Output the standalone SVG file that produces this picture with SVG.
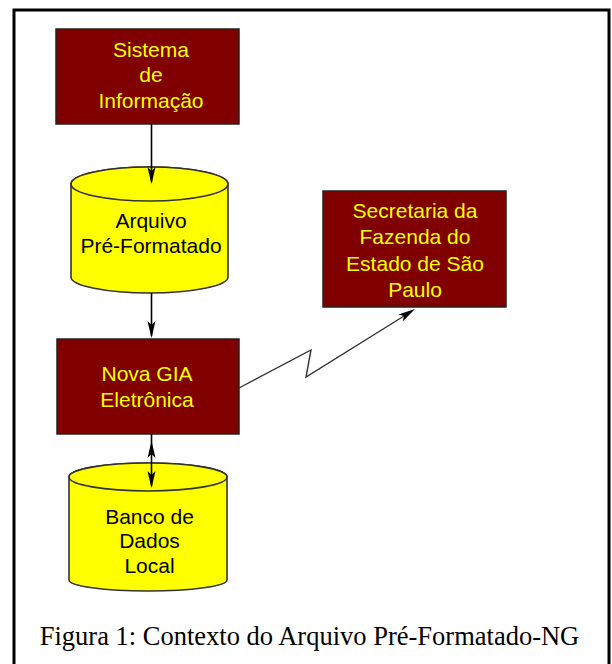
<svg xmlns="http://www.w3.org/2000/svg" xmlns:xlink="http://www.w3.org/1999/xlink" width="612" height="664" viewBox="0 0 612 664">
<style>
.box{fill:#800000;stroke:#222;stroke-width:1.5}
.cyl{fill:#ffff00;stroke:#333;stroke-width:1.6}
.yt{font-family:"Liberation Sans",Arial,sans-serif;font-size:21px;fill:#ffff00;text-anchor:middle}
.bt{font-family:"Liberation Sans",Arial,sans-serif;font-size:21px;fill:#000;text-anchor:middle}
.cap{font-family:"Liberation Serif","Times New Roman",serif;font-size:26.5px;fill:#000;text-anchor:middle}
.ln{stroke:#000;stroke-width:1.6;fill:none}
.zz{stroke:#333;stroke-width:1.4;fill:none}
</style>
<defs>
<path id="ah" d="M0,0 L-4,-17 L0,-13 L4,-17 Z" fill="#000"/>
</defs>
<rect x="14" y="10" width="595" height="670" fill="#fff" stroke="#000" stroke-width="3"/>
<g id="sistema">
<rect class="box" x="56" y="29" width="183" height="95"/>
<text class="yt" x="151" y="57">Sistema</text>
<text class="yt" x="151" y="82">de</text>
<text class="yt" x="151" y="108">Informação</text>
</g>
<g id="arquivo">
<path class="cyl" d="M71,184 L71,277 A78.5,16 0 0 0 228,277 L228,184 A78.5,17 0 0 0 71,184 Z"/>
<ellipse class="cyl" cx="149.5" cy="184" rx="78.5" ry="17"/>
<text class="bt" x="151" y="228">Arquivo</text>
<text class="bt" x="151" y="253">Pré-Formatado</text>
</g>
<g id="novagia">
<rect class="box" x="57" y="339" width="182" height="95"/>
<text class="yt" x="147" y="381">Nova GIA</text>
<text class="yt" x="147" y="407">Eletrônica</text>
</g>
<g id="banco">
<path class="cyl" d="M69,477 L69,580 A79,11 0 0 0 227,580 L227,477 A79,14 0 0 0 69,477 Z"/>
<ellipse class="cyl" cx="148" cy="477" rx="79" ry="14"/>
<text class="bt" x="149.5" y="524">Banco de</text>
<text class="bt" x="149.5" y="548">Dados</text>
<text class="bt" x="149.5" y="573">Local</text>
</g>
<g id="secretaria">
<rect class="box" x="323" y="191" width="183" height="116"/>
<text class="yt" x="415" y="218">Secretaria da</text>
<text class="yt" x="415" y="244">Fazenda do</text>
<text class="yt" x="415" y="271">Estado de São</text>
<text class="yt" x="415" y="297">Paulo</text>
</g>
<g id="connectors">
<line class="ln" x1="151.5" y1="124" x2="151.5" y2="182"/>
<use xlink:href="#ah" transform="translate(151.5,184)"/>
<line class="ln" x1="151.5" y1="293" x2="151.5" y2="336"/>
<use xlink:href="#ah" transform="translate(151.5,338)"/>
<line class="ln" x1="151.5" y1="434" x2="151.5" y2="486"/>
<use xlink:href="#ah" transform="translate(151.5,441) rotate(180)"/>
<use xlink:href="#ah" transform="translate(151.5,488)"/>
<polyline class="zz" points="239,388 311,350 306,377 412,311"/>
<use xlink:href="#ah" transform="translate(415,309) rotate(-122)"/>
</g>
<text class="cap" x="309.5" y="645">Figura 1: Contexto do Arquivo Pré-Formatado-NG</text>
</svg>
